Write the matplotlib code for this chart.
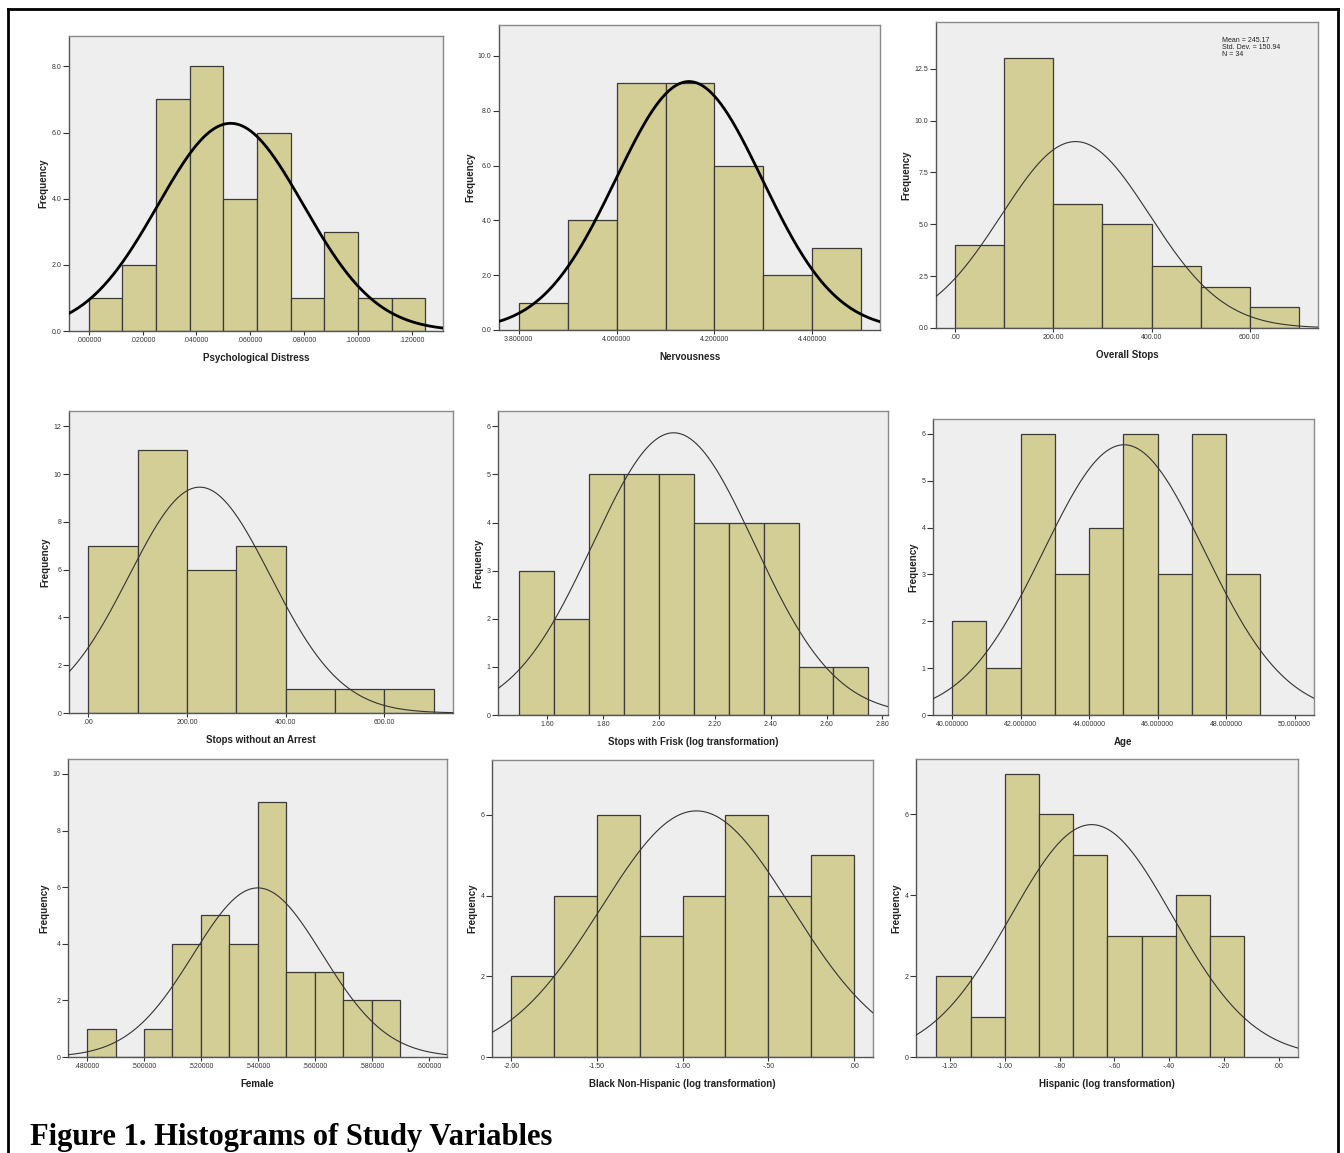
import numpy as np
import matplotlib
matplotlib.use("Agg")
import matplotlib.pyplot as plt
from matplotlib.lines import Line2D

plt.rcParams['font.family'] = ['Liberation Sans', 'DejaVu Sans']

W, H = 1344, 1153

# ---------------- data ----------------
titles = ["Psychological Distress", "Nervousness", "Overall Stops",
          "Stops without an Arrest", "Stops with Frisk (log transformation)", "Age",
          "Female", "Black Non-Hispanic (log transformation)", "Hispanic (log transformation)"]

bin_start = [0.0, 3.8, 0.0, 0.0, 1.5, 40.0, 0.48, -2.0, -1.25]
bin_width = [0.0125, 0.1, 100.0, 100.0, 0.125, 1.0, 0.01, 0.25, 0.125]

counts_distress = [1, 2, 7, 8, 4, 6, 1, 3, 1, 1]
counts_nervous = [1, 4, 9, 9, 6, 2, 3]
counts_overall = [4, 13, 6, 5, 3, 2, 1]
counts_noarrest = [7, 11, 6, 7, 1, 1, 1]
counts_frisk = [3, 2, 5, 5, 5, 4, 4, 4, 1, 1]
counts_age = [2, 1, 6, 3, 4, 6, 3, 6, 3]
counts_female = [1, 0, 1, 4, 5, 4, 9, 3, 3, 2, 2]
counts_black = [2, 4, 6, 3, 4, 6, 4, 5]
counts_hisp = [2, 1, 7, 6, 5, 3, 3, 4, 3]
counts = [counts_distress, counts_nervous, counts_overall, counts_noarrest,
          counts_frisk, counts_age, counts_female, counts_black, counts_hisp]

# fitted normal curve parameters (mean, std. dev.)
means = [0.0527, 4.148, 245.17, 225.6, 2.053, 45.02, 0.540, -0.92, -0.683]
sds = [0.0270, 0.1496, 150.94, 143.5, 0.289, 2.351, 0.0227, 0.556, 0.295]

xtick_vals = [
    [0.0, 0.02, 0.04, 0.06, 0.08, 0.10, 0.12],
    [3.8, 4.0, 4.2, 4.4],
    [0, 200, 400, 600],
    [0, 200, 400, 600],
    [1.6, 1.8, 2.0, 2.2, 2.4, 2.6, 2.8],
    [40, 42, 44, 46, 48, 50],
    [0.48, 0.50, 0.52, 0.54, 0.56, 0.58, 0.60],
    [-2.0, -1.5, -1.0, -0.5, 0.0],
    [-1.2, -1.0, -0.8, -0.6, -0.4, -0.2, 0.0],
]
xtick_labels = [
    [".000000", ".020000", ".040000", ".060000", ".080000", ".100000", ".120000"],
    ["3.800000", "4.000000", "4.200000", "4.400000"],
    [".00", "200.00", "400.00", "600.00"],
    [".00", "200.00", "400.00", "600.00"],
    ["1.60", "1.80", "2.00", "2.20", "2.40", "2.60", "2.80"],
    ["40.000000", "42.000000", "44.000000", "46.000000", "48.000000", "50.000000"],
    [".480000", ".500000", ".520000", ".540000", ".560000", ".580000", ".600000"],
    ["-2.00", "-1.50", "-1.00", "-.50", ".00"],
    ["-1.20", "-1.00", "-.80", "-.60", "-.40", "-.20", ".00"],
]
ytick_vals = [
    [0, 2, 4, 6, 8],
    [0, 2, 4, 6, 8, 10],
    [0, 2.5, 5, 7.5, 10, 12.5],
    [0, 2, 4, 6, 8, 10, 12],
    [0, 1, 2, 3, 4, 5, 6],
    [0, 1, 2, 3, 4, 5, 6],
    [0, 2, 4, 6, 8, 10],
    [0, 2, 4, 6],
    [0, 2, 4, 6],
]
ytick_labels = [
    ["0.0", "2.0", "4.0", "6.0", "8.0"],
    ["0.0", "2.0", "4.0", "6.0", "8.0", "10.0"],
    ["0.0", "2.5", "5.0", "7.5", "10.0", "12.5"],
    ["0", "2", "4", "6", "8", "10", "12"],
    ["0", "1", "2", "3", "4", "5", "6"],
    ["0", "1", "2", "3", "4", "5", "6"],
    ["0", "2", "4", "6", "8", "10"],
    ["0", "2", "4", "6"],
    ["0", "2", "4", "6"],
]
stats_text = "Mean = 245.17\nStd. Dev. = 150.94\nN = 34"

# ---------------- layout (pixels) ----------------
boxes = [(69, 36, 443, 331), (499, 25, 880, 330), (936, 22, 1318, 328),
         (69, 411, 453, 713), (498, 411, 888, 715), (933, 419, 1314, 715),
         (68, 759, 447, 1057), (492, 760, 873, 1057), (916, 759, 1298, 1057)]
xlims = [(-0.0073, 0.1315), (3.760, 4.538), (-39.3, 739.4),
         (-39.3, 739.0), (1.4246, 2.820), (39.445, 50.563),
         (0.4733, 0.6065), (-2.113, 0.111), (-1.324, 0.0704)]
ylims = [(0, 8.92), (0, 11.13), (0, 14.75), (0, 12.64), (0, 6.32),
         (0, 6.32), (0, 10.53), (0, 7.36), (0, 7.37)]
curve_lw = [2.0, 2.0, 0.8, 0.8, 0.8, 0.8, 0.8, 0.8, 0.8]
curve_col = ['black', 'black', '#333333', '#333333', '#333333', '#333333',
             '#333333', '#333333', '#333333']

BAR = '#d3ce96'
BG = '#eeeeee'

fig = plt.figure(figsize=(W / 100, H / 100), dpi=100)
fig.patch.set_facecolor('white')

for i in range(9):
    l, t, r, b = boxes[i]
    ax = fig.add_axes([l / W, 1 - b / H, (r - l) / W, (b - t) / H])
    ax.set_facecolor(BG)
    c = np.array(counts[i], dtype=float)
    edges = bin_start[i] + bin_width[i] * np.arange(len(c))
    ax.bar(edges, c, width=bin_width[i], align='edge', color=BAR,
           edgecolor='#3a3a3a', linewidth=0.9, zorder=2)
    n = c.sum()
    xs = np.linspace(xlims[i][0], xlims[i][1], 400)
    ys = n * bin_width[i] / (sds[i] * np.sqrt(2 * np.pi)) * np.exp(-0.5 * ((xs - means[i]) / sds[i]) ** 2)
    ax.plot(xs, ys, color=curve_col[i], lw=curve_lw[i], zorder=3)
    ax.set_xlim(*xlims[i])
    ax.set_ylim(*ylims[i])
    ax.set_xticks(xtick_vals[i])
    ax.set_xticklabels(xtick_labels[i])
    ax.set_yticks(ytick_vals[i])
    ax.set_yticklabels(ytick_labels[i])
    ax.tick_params(axis='both', labelsize=5, colors='#333333', length=3,
                   width=0.8, pad=1.5)
    ax.tick_params(axis='y', length=4)
    for s in ax.spines.values():
        s.set_color('#8a8a8a')
        s.set_linewidth(1.0)
    ax.spines['left'].set_color('#555555')
    ax.spines['bottom'].set_color('#555555')
    ax.set_xlabel(titles[i], fontsize=7, fontweight='bold', labelpad=6, color='#222222')
    ax.set_ylabel("Frequency", fontsize=7, fontweight='bold', labelpad=2, color='#222222')
    if i == 2:
        ax.text(1222 / W, 1 - 37 / H, stats_text, transform=fig.transFigure,
                fontsize=5, va='top', ha='left', color='#222222', linespacing=0.95)

# outer frame
fig.add_artist(Line2D([8 / W, 1338 / W], [1 - 9 / H, 1 - 9 / H], color='black', lw=2,
                      transform=fig.transFigure))
fig.add_artist(Line2D([8 / W, 8 / W], [1 - 9 / H, 0], color='black', lw=2,
                      transform=fig.transFigure))
fig.add_artist(Line2D([1338 / W, 1338 / W], [1 - 9 / H, 0], color='black', lw=2,
                      transform=fig.transFigure))

fig.text(30 / W, 1 - 1145 / H, "Figure 1. Histograms of Study Variables",
         family=['Liberation Serif', 'DejaVu Serif'], fontweight='bold', fontsize=22,
         va='baseline', ha='left')

fig.savefig("out.png", dpi=100, facecolor='white')
